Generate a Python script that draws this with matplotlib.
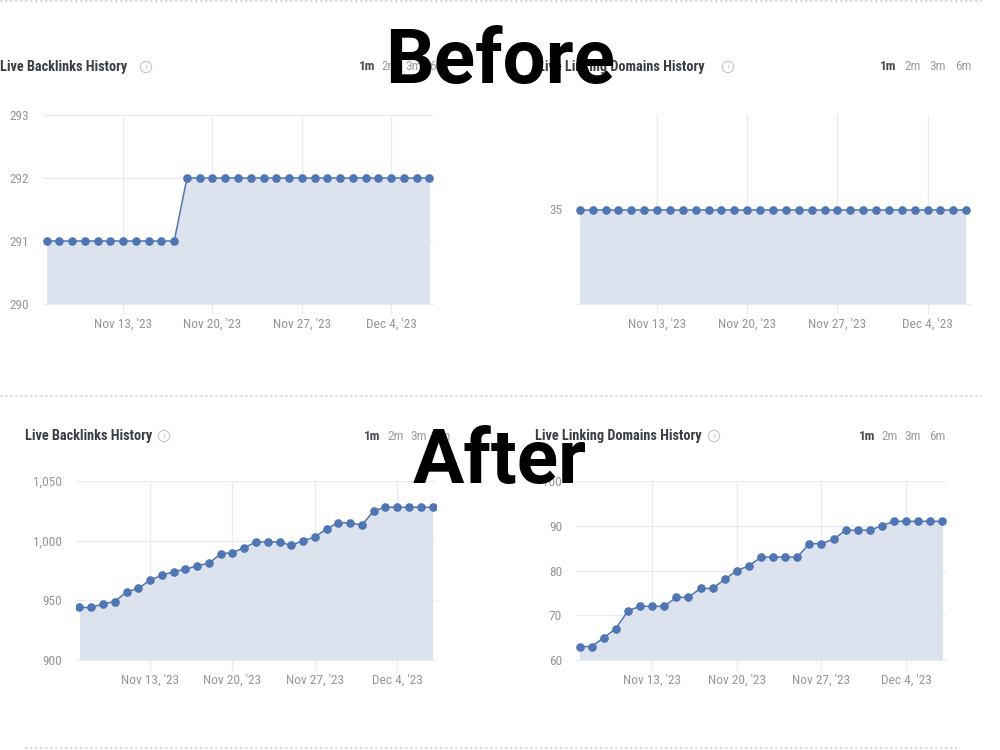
import matplotlib
matplotlib.use("Agg")
import matplotlib.pyplot as plt
import matplotlib.dates as mdates
from matplotlib import font_manager
from matplotlib.lines import Line2D
import pandas as pd

# ── data ──
dates = pd.date_range("2023-11-07", "2023-12-07", freq="D")

before_backlinks = [291] * 11 + [292] * 20
before_domains = [35] * 31

after_backlinks = [944, 944, 947, 949, 957, 960, 967, 971, 974, 976, 979, 981,
                   989, 990, 994, 999, 999, 999, 996, 1000, 1003, 1010, 1015,
                   1015, 1013, 1025, 1028, 1028, 1028, 1028, 1028]
after_domains = [63, 63, 65, 67, 71, 72, 72, 72, 74, 74, 76, 76, 78, 80, 81,
                 83, 83, 83, 83, 86, 86, 87, 89, 89, 89, 90, 91, 91, 91, 91, 91]

backlinks_title = "Live Backlinks History"
domains_title = "Live Linking Domains History"
range_labels = ["1m", "2m", "3m", "6m"]

# ── style ──
LINE = "#4f76b3"
FILL = "#dce3ee"
GRID = "#e9ebf0"
TICK = "#92969e"
TITLE = "#3a3d42"

names = {f.name for f in font_manager.fontManager.ttflist}
if "Roboto Condensed" in names:
    FONT = "Roboto Condensed"
elif "Liberation Sans Narrow" in names:
    FONT = "Liberation Sans Narrow"
else:
    FONT = "Roboto"
plt.rcParams["font.family"] = [FONT, "DejaVu Sans"]

W, H = 1000, 750


def box(l, t, r, b):
    return [l / W, 1 - b / H, (r - l) / W, (b - t) / H]


def fx(x):
    return x / W


def fy(y):
    return 1 - y / H


fig = plt.figure(figsize=(10, 7.5), dpi=100)


def draw_panel(rect, vals, ylim, yticks, yfmt):
    ax = fig.add_axes(box(*rect))
    ax.fill_between(dates, vals, ylim[0], color=FILL, lw=0, zorder=1)
    ax.plot(dates, vals, color=LINE, lw=1.1, marker="o", ms=5.2, zorder=3)
    pad = pd.Timedelta(hours=7)
    ax.set_xlim(dates[0] - pad, dates[-1] + pad)
    ax.set_ylim(*ylim)
    ax.set_yticks(yticks)
    ax.yaxis.set_major_formatter(yfmt)
    ax.xaxis.set_major_locator(mdates.WeekdayLocator(byweekday=mdates.MO))
    ax.xaxis.set_major_formatter(mdates.DateFormatter("%b %-d, '%y"))
    ax.grid(True, color=GRID, lw=0.9, zorder=0)
    ax.set_axisbelow(True)
    for s in ax.spines.values():
        s.set_visible(False)
    ax.spines["bottom"].set_visible(True)
    ax.spines["bottom"].set_color(GRID)
    ax.tick_params(axis="x", length=7, width=0.9, color=GRID, pad=3,
                   labelsize=9.6, labelcolor=TICK)
    ax.tick_params(axis="y", length=0, pad=10, labelsize=9.6, labelcolor=TICK)
    ax.set_facecolor("none")
    return ax


def header(title, tx, ix, rx, y):
    fig.text(fx(tx), fy(y), title, fontsize=10.3, fontweight="bold",
             color=TITLE, ha="left", va="center")
    fig.text(fx(ix), fy(y), "i", fontsize=5.5, color="#b5b8bd", ha="center",
             va="center", bbox=dict(boxstyle="circle,pad=0.35", fc="white",
                                    ec="#c4c6ca", lw=0.8))
    for k, (lab, x) in enumerate(zip(range_labels, rx)):
        fig.text(fx(x), fy(y), lab, fontsize=9.5, ha="center", va="center",
                 color="#4a4d52" if k == 0 else "#9a9da3",
                 fontweight="bold" if k == 0 else "normal")


int_fmt = matplotlib.ticker.FuncFormatter(lambda v, p: f"{int(v):,}")

# ── Before ──
draw_panel((43, 115, 433, 304), before_backlinks, (290, 293),
           [290, 291, 292, 293], int_fmt)
header(backlinks_title, 0, 146, [367, 390, 414, 437], 67)

ax_tr = draw_panel((576, 115, 970, 304), before_domains, (34, 36), [35], int_fmt)
ax_tr.grid(False, axis="y")
header(domains_title, 538, 728, [888, 913, 938, 963], 67)

# ── After ──
draw_panel((76, 481, 436, 660), after_backlinks, (900, 1050),
           [900, 950, 1000, 1050], int_fmt)
header(backlinks_title, 25, 164, [372, 396, 419, 442], 436)

draw_panel((576, 481, 946, 660), after_domains, (60, 100),
           [60, 70, 80, 90, 100], int_fmt)
header(domains_title, 535, 714, [867, 890, 913, 937], 436)

# dotted separators
for y, x0, x1 in [(1, 0, 982), (396, 0, 982), (748, 25, 957)]:
    fig.add_artist(Line2D([fx(x0), fx(x1)], [fy(y), fy(y)], lw=1.2,
                          color="#d4d6dc", ls=(0, (1.5, 1.5))))

# overlay labels
fig.text(0.5, fy(83), "Before", fontsize=55, fontweight="bold", color="black",
         ha="center", va="baseline", family=["Roboto", "DejaVu Sans"], zorder=10)
fig.text(0.5, fy(483), "After", fontsize=55, fontweight="bold", color="black",
         ha="center", va="baseline", family=["Roboto", "DejaVu Sans"], zorder=10)

fig.savefig("out.png", dpi=100, facecolor="white")
